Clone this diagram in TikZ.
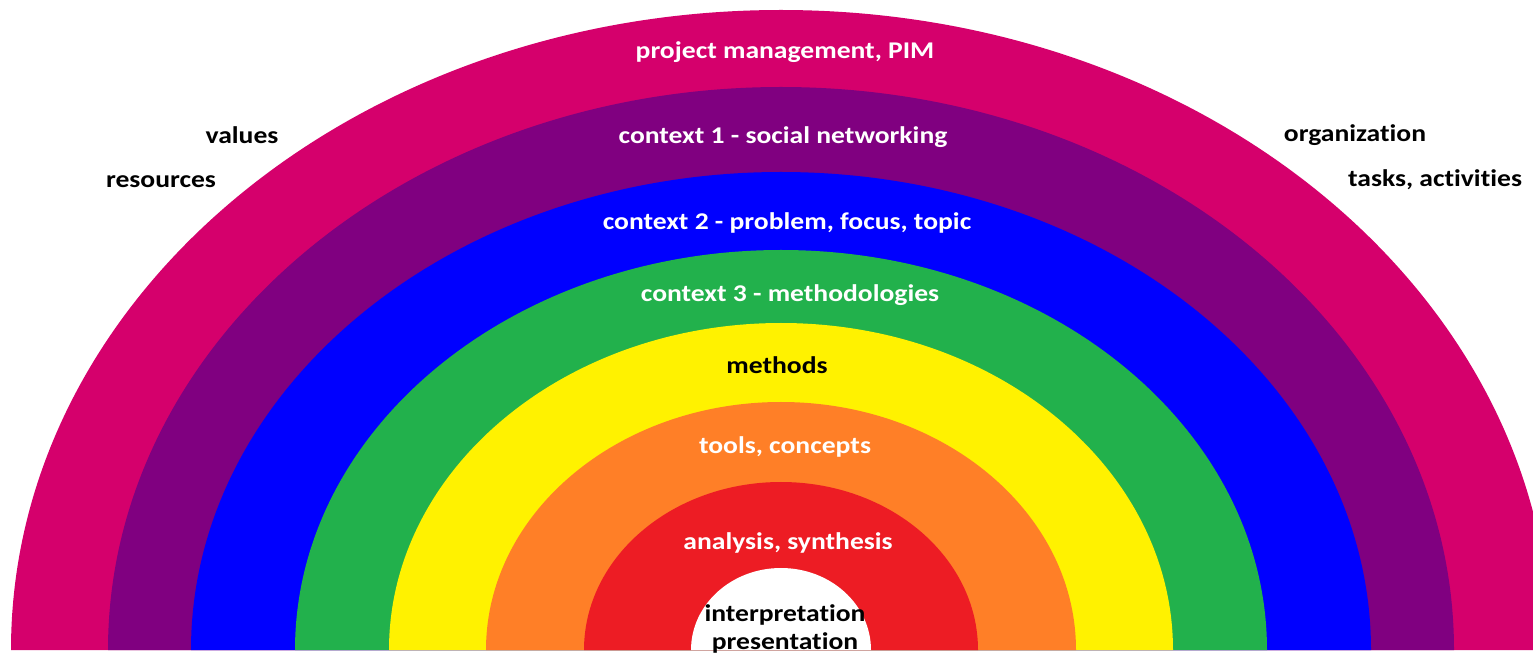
\documentclass[tikz,border=0pt]{standalone}
\usepackage{fontspec}
\newfontfamily\bandfont{Carlito}[FakeStretch=1.15, Ligatures=NoCommon]
\usepackage{xcolor}
\definecolor{bandmagenta}{RGB}{213,0,108}
\definecolor{bandpurple}{RGB}{128,0,128}
\definecolor{bandblue}{RGB}{0,0,255}
\definecolor{bandgreen}{RGB}{34,177,76}
\definecolor{bandyellow}{RGB}{255,242,0}
\definecolor{bandorange}{RGB}{255,127,39}
\definecolor{bandred}{RGB}{237,28,36}

\begin{document}
\begin{tikzpicture}[x=0.5pt, y=0.5pt,
    bandlabel/.style={font=\bandfont\bfseries\fontsize{12}{14}\selectfont, text=white, inner sep=0pt},
    sidelabel/.style={font=\bandfont\bfseries\fontsize{12}{14}\selectfont, text=black, inner sep=0pt},
]
\useasboundingbox (0,0) rectangle (1533,654);
\fill[white] (0,0) rectangle (1533,654);

% rainbow bands, outer to inner
\foreach \rx/\ry/\col in {770/640/bandmagenta, 673/563/bandpurple, 590/478/bandblue,
    486/400/bandgreen, 392/327/bandyellow, 295/248/bandorange, 197/168/bandred, 90/82/white}
  \fill[\col] (781-\rx,4) arc[start angle=180, end angle=0, x radius=\rx, y radius=\ry] -- cycle;

\node[bandlabel] (pim)      at (785,602) {project management, PIM};
\node[bandlabel] (ctxone)   at (783,517) {context 1 - social networking};
\node[bandlabel] (ctxtwo)   at (787,431) {context 2 - problem, focus, topic};
\node[bandlabel] (ctxthree) at (790,359) {context 3 - methodologies};
\node[sidelabel] (methods)  at (777,289) {methods};
\node[bandlabel] (tools)    at (785,207) {tools, concepts};
\node[bandlabel] (analysis) at (788,111) {analysis, synthesis};
\node[sidelabel] (interp)   at (785,39)  {interpretation};
\node[sidelabel] (present)  at (785,11)  {presentation};

\node[sidelabel] (values)    at (242,519)  {values};
\node[sidelabel] (resources) at (161,472)  {resources};
\node[sidelabel] (org)       at (1355,519) {organization};
\node[sidelabel] (tasks)     at (1435,474) {tasks, activities};

\end{tikzpicture}
\end{document}
